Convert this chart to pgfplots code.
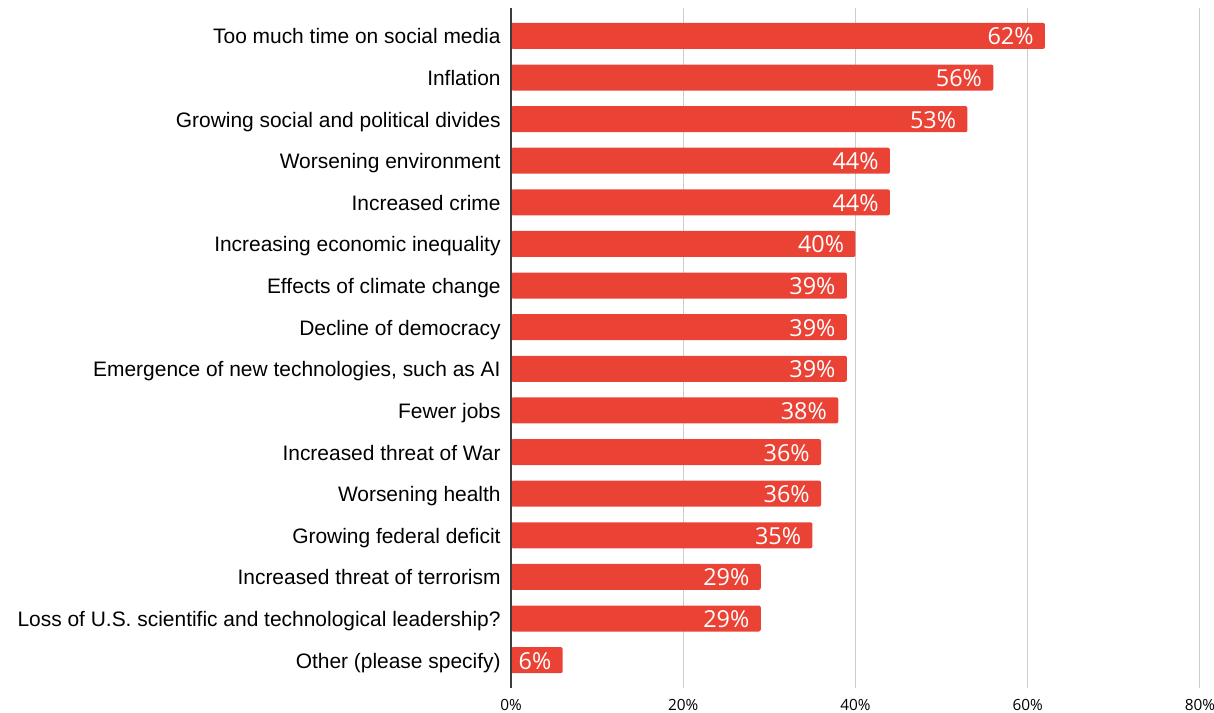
\documentclass[border=0pt]{standalone}
\usepackage{pgfplots}
\pgfplotsset{compat=1.18}
\usepackage{fontspec}
\setmainfont{Liberation Sans}
\newfontfamily\opensans{Open Sans}
\usetikzlibrary{calc}
\definecolor{barred}{RGB}{234,67,53}
\definecolor{gridgray}{RGB}{204,204,204}
\definecolor{axisdark}{RGB}{60,60,60}
\begin{document}
\begin{tikzpicture}
\begin{axis}[
  scale only axis,
  width=344.5pt, height=340pt,
  xmin=0, xmax=80,
  ymin=-0.67, ymax=15.67,
  y dir=reverse,
  xbar, bar width=13pt,
  /pgf/number format/assume math mode=true,
  axis line style={draw=none},
  major tick length=0pt,
  xmajorgrids,
  grid style={gridgray, line width=0.5pt},
  xtick={0,20,40,60,80},
  xticklabel={\pgfmathprintnumber{\tick}\%},
  xticklabel style={font=\opensans\fontsize{7.7}{9}\selectfont, inner sep=0pt, yshift=-5.5pt, text=black},
  ytick={0,...,15},
  yticklabels={Too much time on social media, Inflation, Growing social and political divides, Worsening environment, Increased crime, Increasing economic inequality, Effects of climate change, Decline of democracy, {Emergence of new technologies, such as AI}, Fewer jobs, Increased threat of War, Worsening health, Growing federal deficit, Increased threat of terrorism, Loss of U.S. scientific and technological leadership?, Other (please specify)},
  yticklabel style={font=\fontsize{10.47}{12}\selectfont, inner sep=0pt, xshift=-5pt, yshift=-1.3pt, text=black, text height=7.6pt, text depth=2.2pt},
  point meta=x,
  nodes near coords={\pgfmathprintnumber{\pgfplotspointmeta}\%},
  nodes near coords align={anchor=east},
  every node near coord/.append style={font=\opensans\fontsize{11.7}{13}\selectfont, text=white, inner sep=0pt, xshift=-5.5pt, text height=8.4pt, text depth=0pt, yshift=-0.3pt},
  clip=false,
]
\addplot[fill=barred, draw=none, rounded corners=1pt] coordinates {
(62,0) (56,1) (53,2) (44,3) (44,4) (40,5) (39,6) (39,7) (39,8) (38,9) (36,10) (36,11) (35,12) (29,13) (29,14) (6,15)
};
\draw[axisdark, line width=0.6pt] (axis cs:0,-0.67) -- (axis cs:0,15.67);
\coordinate (SW) at (axis description cs:0,0);
\coordinate (NE) at (axis description cs:1,1);
\end{axis}
\pgfresetboundingbox
\path ($(SW)+(-255.5pt,-12pt)$) rectangle ($(NE)+(7pt,4pt)$);
\end{tikzpicture}
\end{document}
